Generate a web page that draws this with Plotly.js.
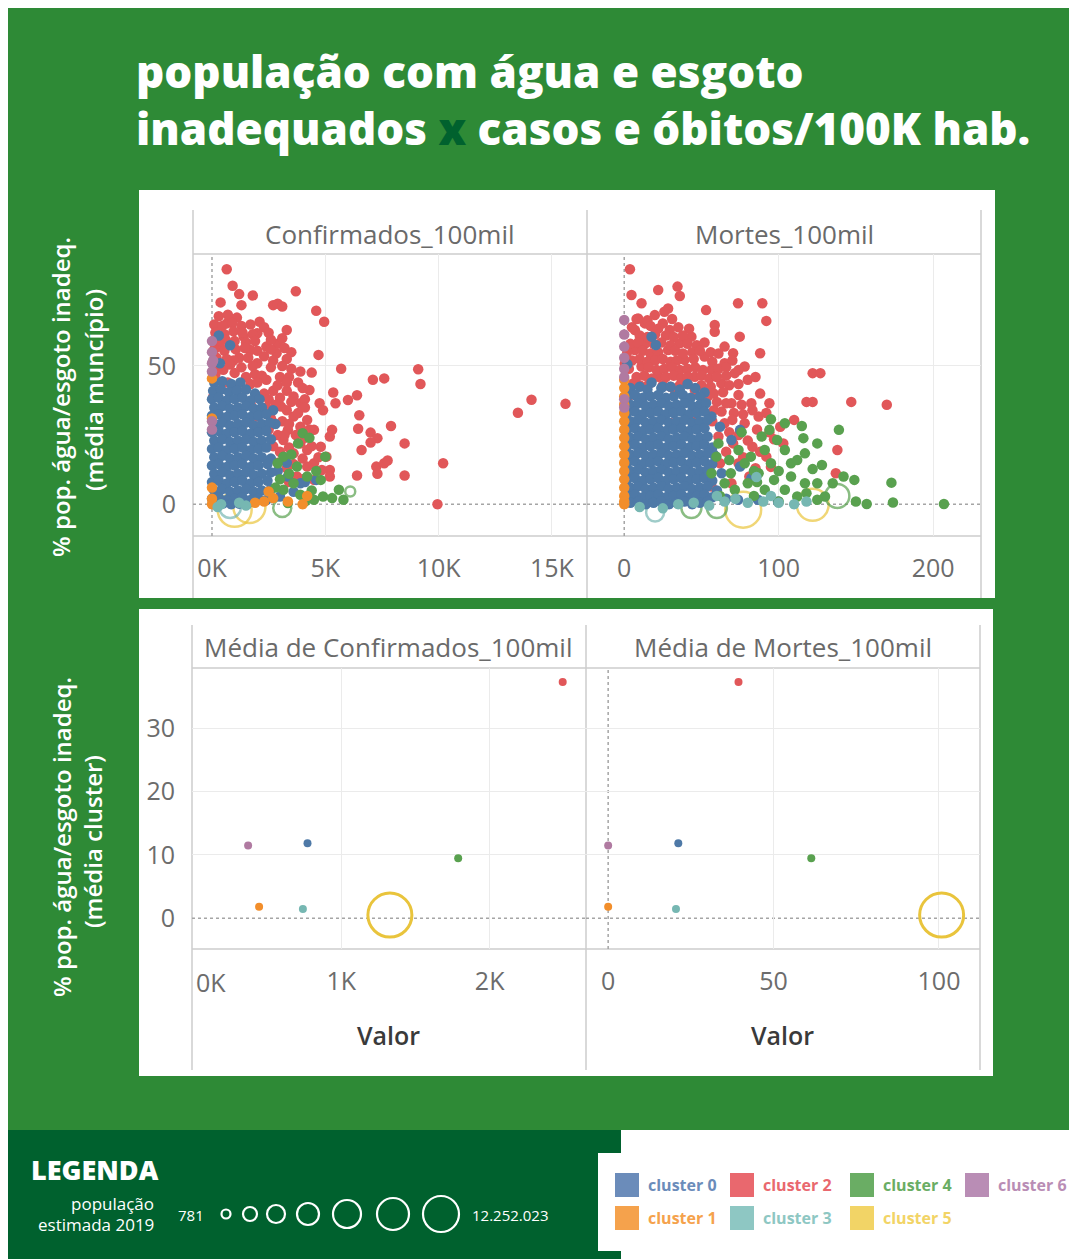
<!DOCTYPE html>
<html><head><meta charset="utf-8">
<script src="https://cdn.plot.ly/plotly-3.0.1.min.js"></script>
<style>html,body{margin:0;padding:0;background:#fff;}#chart{width:1069px;height:1259px;}</style>
</head><body><div id="chart"></div>
<script>
// ---------------- DATA ----------------
const clusterNames = ['cluster 0','cluster 1','cluster 2','cluster 3','cluster 4','cluster 5','cluster 6'];
const clusterColors = ['#4e79a7','#f28e2b','#e15759','#76b7b2','#59a14f','#e9c43c','#b07aa1'];
const legendColors = ['#6b8cba','#f5a24c','#e9686e','#8ec7c3','#6aad64','#f2d466','#b98db5'];

// cluster means (bottom panel): [confirmados/100mil, mortes/100mil, % pop.]
const meanConf = [773, 447, 2492, 742, 1788, 1328, 373];
const meanMort = [21.2, 0, 39.4, 20.5, 61.4, 100.8, 0];
const meanPct  = [11.85, 1.83, 37.3, 1.47, 9.48, 0.5, 11.5];

const confTicks = [0, 5000, 10000, 15000];
const confTickText = ['0K','5K','10K','15K'];
const mortTicks = [0, 100, 200];
const meanConfTicks = [0, 1000, 2000];
const meanConfTickText = ['0K','1K','2K'];
const meanMortTicks = [0, 50, 100];
const pctTicksTop = [0, 50];
const pctTicksBottom = [0, 10, 20, 30];

// municipalities: [confirmados/100mil, % pop.]
const c2_conf = [[650,85],[910,79],[1200,76],[1800,75.5],[1300,72],[380,73],[3700,77],[2700,72],[2900,72.5],[3100,71.5],[4600,70],[4950,66],[3300,63],[2100,66],[3500,55],[4700,54],[2900,58],[5700,49],[4400,47.6],[7100,45],[7600,45.5],[9100,48.8],[9200,43.5],[5350,40.4],[6000,37.7],[6400,39.4],[5450,36.5],[6500,32.2],[6450,27.3],[7000,25.9],[7300,23.9],[7000,22.3],[7900,28.3],[8500,22],[6600,19.6],[7250,13.6],[7600,14.8],[7750,15.8],[7300,11],[6400,10.4],[8500,10.4],[10200,14.8],[9950,0],[13500,33.1],[14100,37.8],[15600,36.3],[5200,24.5],[5300,26.9],[4800,20.8],[5050,17.2],[5200,12.4],[4850,12.4],[4500,14.8],[4500,26.9],[4200,30.5],[3900,36.5],[4300,41.3],[4750,36.5],[4900,34],[3900,48],[3000,46],[3300,41],[3600,39],[2700,41],[2400,45],[2000,51],[1200,53],[1400,60.6],[200,64.2],[650,65.4],[350,57],[940,52],[1700,55.8],[2400,57],[2850,54.6],[500,48.6],[1500,46],[2300,40],[3050,35.3],[3600,31.7],[2750,29.3],[2000,31.7],[3350,26.9],[3900,22],[4200,19.6],[3600,18.4],[3150,23.2],[4200,13.6],[3750,10],[4500,8.8],[5200,10],[2550,34],[2100,26.9],[1700,36.5],[1100,41.3],[60,39],[800,58],[2000,61.8],
 [300,68],[700,68.5],[1100,67.5],[100,65],[450,64.5],[900,65.5],[1300,64.5],[1700,65],[2300,64],[150,62],[550,61.5],[950,62.5],[1350,62],[1800,61.5],[2500,62],[250,59],[600,59.5],[1000,59],[1500,58.5],[1900,59],[2600,59.5],[3100,60],[100,56],[550,55.5],[1050,56],[1450,56.5],[2000,55.5],[2600,56],[3200,56.5],[200,53],[650,52.5],[1600,53],[2300,53.5],[2700,52],[3300,52.5],[300,50],[800,50.5],[1300,49.5],[1800,50],[2600,49.5],[3100,50],[3500,49],[150,47],[1000,47.5],[1900,47],[2200,46.5],[3400,46],[3800,44],[700,44],[1700,43.5],[2000,44],[2900,43],[3300,44],[4000,42],
 [2500,38],[3000,38.5],[3500,37],[4100,38],[2400,35],[2800,36],[3300,34],[3800,33],[4100,35],[2600,31],[3100,30],[3400,29],[3900,28],[4300,27],[2500,27],[2900,25],[3200,25],[3700,25],[4100,24],[2700,21],[3000,19],[3400,20.5],[4000,16.5],[4400,21],[2900,15],[3300,13],[3600,14.5],[4700,17],[4000,9],[3400,8]];

const c0_conf = [[300,61],[800,57.5],[350,51],[2700,34],[2800,29],[3200,17],[3350,10],[3900,7.6],[4100,8],[4600,8.8],[3000,2.8],[3600,4.5],[3300,15],[2900,12],
 [100,44],[450,44.5],[850,43.5],[1250,44],
 [50,41],[400,41.5],[750,40.5],[1100,41],[1500,41.5],[1900,40],
 [0,38],[300,38.5],[650,37.5],[1000,38],[1350,38.5],[1700,37.5],[2100,38],
 [100,35],[450,35.5],[800,34.5],[1150,35],[1500,35.5],[1850,34.5],[2200,35],
 [0,32],[300,32.5],[650,31.5],[1000,32],[1350,32.5],[1700,31.5],[2050,32],[2400,32.5],
 [100,29],[450,29.5],[800,28.5],[1150,29],[1500,29.5],[1850,28.5],[2200,29],[2550,29.5],
 [0,26],[300,26.5],[650,25.5],[1000,26],[1350,26.5],[1700,25.5],[2050,26],[2400,26.5],
 [100,23],[450,23.5],[800,22.5],[1150,23],[1500,23.5],[1850,22.5],[2200,23],[2600,23.5],
 [0,20],[300,20.5],[650,19.5],[1000,20],[1350,20.5],[1700,19.5],[2050,20],[2400,20.5],
 [100,17],[450,17.5],[800,16.5],[1150,17],[1500,17.5],[1850,16.5],[2200,17],[2600,16.5],
 [0,14],[300,14.5],[650,13.5],[1000,14],[1350,14.5],[1700,13.5],[2050,14],[2450,14.5],
 [100,11],[450,11.5],[800,10.5],[1150,11],[1500,11.5],[1850,10.5],[2200,11],[2600,11.5],
 [0,8],[300,8.5],[650,7.5],[1000,8],[1350,8.5],[1700,7.5],[2050,8],[2450,8.5],
 [100,5],[450,5.5],[800,4.5],[1150,5],[1500,5.5],[1850,4.5],[2200,5],[2600,5.5],
 [0,2],[300,2.5],[650,1.5],[1000,2],[1350,2.5],[1700,1.5],[2050,2],[2400,1.5],
 [150,0],[500,0.3],[850,0],[1200,0.2],[1550,0]];

const c4_conf = [[4000,25.7],[3800,22],[4300,24],[3150,17.2],[2900,14.8],[3750,13.6],[4200,10],[4800,8.8],[3600,7.6],[3150,5.2],[3900,3.4],[4500,1.6],[4900,2.8],[5300,2.2],[5600,5.2],[5800,1.6],[5000,17.2],[3350,0.4],[3500,18],[4400,5],[4100,1],[3000,9],[3400,11],[4600,12],[2800,6]];
const c1_conf = [[0,45.5],[0,31],[0,6],[0,2],[0,0],[2700,2.2],[2500,4.6],[3350,1],[4000,0],[1900,0.5],[2300,1],[4200,3]];
const c6_conf = [[0,59],[0,55],[0,51],[0,48],[0,30],[0,27],[50,52]];
const c3_conf = [[400,0],[1200,0.5],[1500,-0.5],[250,-1]];
// large-population municipalities (drawn as rings): [value, % pop., ring size]
const c5_conf_big = [[1000,-2,34],[1650,-1,32]];
const c3_conf_big = [[800,-1,22]];
const c4_conf_big = [[3100,-1.4,18],[6100,4.6,10]];

// municipalities: [mortes/100mil, % pop.]
const c2_mort = [[3.7,85],[4.7,75.7],[11.2,72.7],[22,77.5],[34.5,78.7],[36,75.3],[28.4,70.8],[26,69.6],[19.8,68.4],[9,67.2],[13.4,65.4],[6.9,63],[25,65.4],[29.5,63],[53,70.2],[73.7,72.7],[89.4,72.7],[92,66.3],[58.6,64.8],[58.6,62.4],[74.8,60.6],[65,57],[70.5,54.6],[88,54.6],[43.5,60.6],[36,58.2],[28.4,55.8],[17.7,53.4],[11.2,49.8],[39,52.2],[52,53.4],[65,51],[56.5,48.6],[45.7,46.1],[71.6,47.4],[78,49.8],[80,45],[62.9,43.7],[54,38.9],[69.4,36.5],[82.3,36.5],[94,36.5],[122,47.4],[127,47.4],[118,37],[122,37],[147,37],[170,36],[138,19.6],[137,11.2],[110,30.5],[101,28],[87,31.7],[78,29.3],[65,29.3],[61,24.5],[70.5,22],[83,20.8],[92,17.2],[103,22],[74,14.8],[62,14.8],[56.5,6.4],[69.4,7.6],[43.5,31.7],[30.6,29.3],[22,46.1],[5.8,43.7],[2.6,38.9],[32.7,41.3],[45.7,41.3],[13.4,58],[6.9,55.8],[0.4,50.9],[1.5,41.3],[0.4,36.5],
 [8,67],[15,66.5],[31,67],[5,64],[17,64.5],[22,63.5],[35,64],[42,63.5],[10,61],[15,60.5],[20,61.5],[27,61],[32,60.5],[38,61],[4,58],[9,58.5],[19,58],[24,58.5],[30,57.5],[41,58],[47,57.5],[52,58.5],[2,55],[12,55.5],[17,54.5],[22,55],[33,55.5],[38,54.5],[44,55],[49,55.5],[56,55],[61,54.5],[5,52],[10,52.5],[15,51.5],[20,52],[25,52.5],[30,51.5],[34,52],[45,52.5],[57,51.5],[70,52],[3,49],[16,49.5],[21,48.5],[26,49],[31,49.5],[36,48.5],[41,49],[46,49.5],[51,48.5],[61,49],[66,49.5],[74,48.5],[8,46],[13,46.5],[18,45.5],[27,46],[32,46.5],[37,45.5],[41,46],[50,46.5],[55,45.5],[60,46],[66,46.5],[85,46],[10,43],[16,43.5],[25,43],[30,42.5],[36,43],[41,43.5],[50,43],[56,42.5],[68,43],[74,43.5],
 [58,40],[64,40.5],[74,39.5],[88,40],[60,37],[66,36.5],[76,36],[58,34],[63,33.5],[71,33],[77,32.5],[83,34],[92,33],[57,30],[70,30.5],[86,27],[94,26],[68,26],[74,25],[80,23],[97,23.5],[88,19],[66,19],[77,17],[85,13],[95,13.5],[81,10]];

const c0_mort = [[17.7,60.6],[20.5,57.6],[2,50.6],[17.7,44],[25,42.5],[41,43.5],[52,40.4],[51,34],[56.5,31.7],[75,26.9],[69.4,23.2],[63,11.2],[75,13.6],[82.3,9.4],[73.7,1.6],[86.6,1.6],[99.6,1],[60,5],[66,2],[58,18],[62,28],
 [4,42],[10,42.5],[15,41.5],[24,42],[30,42.5],[36,41.5],[46,42],
 [2,39],[7,39.5],[12,38.5],[17,39],[22,39.5],[27,38.5],[32,39],[38,39.5],[43,38.5],[49,39],
 [4,36],[9,36.5],[14,35.5],[19,36],[24,36.5],[29,35.5],[34,36],[39,36.5],[44,35.5],[49,36],[53,36.5],
 [2,33],[7,33.5],[12,32.5],[17,33],[22,33.5],[27,32.5],[32,33],[37,33.5],[42,32.5],[47,33],[52,33.5],
 [4,30],[9,30.5],[14,29.5],[19,30],[24,30.5],[29,29.5],[34,30],[39,30.5],[44,29.5],[49,30],[54,30.5],
 [2,27],[7,27.5],[12,26.5],[17,27],[22,27.5],[27,26.5],[32,27],[37,27.5],[42,26.5],[47,27],[52,27.5],
 [4,24],[9,24.5],[14,23.5],[19,24],[24,24.5],[29,23.5],[34,24],[39,24.5],[44,23.5],[49,24],[54,24.5],
 [2,21],[7,21.5],[12,20.5],[17,21],[22,21.5],[27,20.5],[32,21],[37,21.5],[42,20.5],[47,21],[52,21.5],[57,20.5],
 [4,18],[9,18.5],[14,17.5],[19,18],[24,18.5],[29,17.5],[34,18],[39,18.5],[44,17.5],[49,18],[54,18.5],
 [2,15],[7,15.5],[12,14.5],[17,15],[22,15.5],[27,14.5],[32,15],[37,15.5],[42,14.5],[47,15],[52,15.5],[57,14.5],
 [4,12],[9,12.5],[14,11.5],[19,12],[24,12.5],[29,11.5],[34,12],[39,12.5],[44,11.5],[49,12],[54,12.5],
 [2,9],[7,9.5],[12,8.5],[17,9],[22,9.5],[27,8.5],[32,9],[37,9.5],[42,8.5],[47,9],[52,9.5],[57,8.5],
 [4,6],[9,6.5],[14,5.5],[19,6],[24,6.5],[29,5.5],[34,6],[39,6.5],[44,5.5],[49,6],[54,6.5],
 [2,3],[7,3.5],[12,2.5],[17,3],[22,3.5],[27,2.5],[32,3],[37,3.5],[42,2.5],[47,3],[52,3.5],[57,2.5],
 [4,0.5],[9,1],[14,0],[19,0.5],[24,1],[29,0],[34,0.5],[39,1],[44,0],[49,0.5],[54,1]];

const c4_mort = [[95,30.7],[94,26.9],[104,29.3],[115,28.3],[116,23.9],[125,22],[139,26.9],[122,12.7],[128,14.2],[142,10],[149,8.8],[173,7.8],[174,0.6],[157,0.1],[150,1],[207,0.1],[130,2.8],[112,2.8],[104,5.2],[97,8.8],[87,11.2],[78,14.8],[74,19.6],[61,22],[59.7,17.2],[56.5,11.2],[65,7.6],[71.6,5.2],[80,7.6],[91,5.2],[95,14.8],[104,19.6],[108,14.8],[99,23.2],[89,24.5],[82,17.2],[69,11.2],[117,7.6],[125,7.6],[108,10],[91,19.6],[117,18.4],[125,1.6],[135,7.6],[62,3],[84,3],[100,1],[118,4],[68,16],[86,8],[112,16],[100,12],[76,26],[84,12]];
const c1_mort = [[0,45],[0,42],[0,39],[0,36],[0,33],[0,30],[0,27],[0,24],[0,21],[0,18],[0,15],[0,12],[0,9],[0,6],[0,3],[0,1],[0,0]];
const c6_mort = [[0,66.6],[0,61.4],[0,57],[0,53],[0,49],[0,46],[0,38],[0,35]];
const c3_mort = [[10,-1],[25,-1.5],[35,0],[45,0.5],[55,-0.5],[65,1],[72,2],[80,0.5],[90,1],[100,0.5],[110,0],[118,1],[85.6,9.8],[95,3],[60,3]];
const c5_mort_big = [[77,-2,36],[122,-0.2,32]];
const c3_mort_big = [[20,-3,18]];
const c4_mort_big = [[43.5,-1.4,20],[60,-1.4,20],[138,3,24]];

// size legend
const popMin = '781', popMax = '12.252.023';

// ---------------- LAYOUT HELPERS ----------------
const W = 1069, H = 1259;
const px = v => v / W;
const py = v => 1 - v / H;
const X = a => a.map(p => p[0]);
const Y = a => a.map(p => p[1]);
const S = a => a.map(p => p[2]);

const traces = [];
function dots(arr, ci, xa, ya, size) {
  traces.push({type:'scatter', mode:'markers', x:X(arr), y:Y(arr), xaxis:xa, yaxis:ya,
    marker:{color:clusterColors[ci], size:size||10.5, line:{width:0}}, hoverinfo:'skip', showlegend:false});
}
function rings(arr, ci, xa, ya) {
  traces.push({type:'scatter', mode:'markers', x:X(arr), y:Y(arr), xaxis:xa, yaxis:ya,
    marker:{color:clusterColors[ci], size:S(arr), symbol:'circle-open', line:{width:2.5, color:clusterColors[ci]}}, hoverinfo:'skip', showlegend:false});
}
// top-left (Confirmados): big rings lie beneath the dots
rings(c5_conf_big,5,'x','y'); rings(c3_conf_big,3,'x','y'); rings(c4_conf_big,4,'x','y');
dots(c2_conf,2,'x','y'); dots(c0_conf,0,'x','y'); dots(c4_conf,4,'x','y');
dots(c1_conf,1,'x','y'); dots(c6_conf,6,'x','y'); dots(c3_conf,3,'x','y');
// top-right (Mortes)
rings(c5_mort_big,5,'x2','y2'); rings(c3_mort_big,3,'x2','y2'); rings(c4_mort_big,4,'x2','y2');
dots(c2_mort,2,'x2','y2'); dots(c0_mort,0,'x2','y2'); dots(c4_mort,4,'x2','y2');
dots(c1_mort,1,'x2','y2'); dots(c6_mort,6,'x2','y2'); dots(c3_mort,3,'x2','y2');
// bottom (cluster means)
for (let i = 0; i < 7; i++) {
  const big = i === 5;
  const m = {color:clusterColors[i], size: big ? 44 : 8, symbol: big ? 'circle-open' : 'circle', line:{width: big ? 3 : 0, color:clusterColors[i]}};
  traces.push({type:'scatter', mode:'markers', x:[meanConf[i]], y:[meanPct[i]], xaxis:'x3', yaxis:'y3', marker:m, hoverinfo:'skip', showlegend:false});
  traces.push({type:'scatter', mode:'markers', x:[meanMort[i]], y:[meanPct[i]], xaxis:'x4', yaxis:'y4', marker:m, hoverinfo:'skip', showlegend:false});
}

const tickFont = {family:'Open Sans', size:25, color:'#6c6c6c'};
const grid = '#ebebeb';
function xax(domain, range, tv, tt, anchor) {
  return {domain:domain, range:range, tickvals:tv, ticktext:tt, anchor:anchor, showgrid:true, gridcolor:grid, gridwidth:1,
    zeroline:true, zerolinecolor:'rgba(0,0,0,0)', showline:false, ticks:'', tickfont:tickFont, ticklabelstandoff:15, fixedrange:true};
}
function yax(domain, range, tv, anchor, show) {
  return {domain:domain, range:range, tickvals:tv, anchor:anchor, showgrid:true, gridcolor:grid, gridwidth:1,
    zeroline:true, zerolinecolor:'rgba(0,0,0,0)', showline:false, ticks:'', tickfont:tickFont, showticklabels:show, ticklabelstandoff:16, fixedrange:true};
}
const topDom = [py(536), py(254)];
const botDom = [py(949), py(668)];

const shapes = [];
function rect(x0,y0,x1,y1,color){ shapes.push({type:'rect', xref:'paper', yref:'paper', x0:px(x0), x1:px(x1), y0:py(y1), y1:py(y0), fillcolor:color, line:{width:0}, layer:'below'}); }
function pline(x0,y0,x1,y1,color,w){ shapes.push({type:'line', xref:'paper', yref:'paper', x0:px(x0), x1:px(x1), y0:py(y0), y1:py(y1), line:{color:color, width:w}, layer:'below'}); }
rect(8,8,1069,1130,'#2e8a36');
rect(8,1130,621,1259,'#00612e');
rect(598,1153,1069,1251,'#ffffff');
rect(139,190,995,598,'#ffffff');
rect(139,609,993,1076,'#ffffff');
const frame = '#cdcdcd';
[193,587,981].forEach(x => pline(x,210,x,598,frame,1.5));
pline(193,254,981,254,frame,1.5); pline(193,536,981,536,frame,1.5);
[192,586,980].forEach(x => pline(x,625,x,1070,frame,1.5));
pline(192,668,980,668,frame,1.5); pline(192,949,980,949,frame,1.5);
// dotted zero lines (data coords)
const dot = {color:'#a5a5a5', width:1.5, dash:'dot'};
[['x','y'],['x2','y2'],['x4','y4']].forEach(([xa,ya]) => shapes.push({type:'line', xref:xa, yref:ya+' domain', x0:0, x1:0, y0:0, y1:1, line:dot, layer:'below'}));
[['x','y'],['x2','y2'],['x3','y3'],['x4','y4']].forEach(([xa,ya]) => shapes.push({type:'line', xref:xa+' domain', yref:ya, x0:0, x1:1, y0:0, y1:0, line:dot, layer:'below'}));
// size legend circles
const sizeLegend = [[226,9],[250,14],[276,18],[308,22],[347,28],[393,32],[441,36]];
sizeLegend.forEach(([cx,d]) => shapes.push({type:'circle', xref:'paper', yref:'paper', x0:px(cx-d/2), x1:px(cx+d/2), y0:py(1214+d/2), y1:py(1214-d/2), line:{color:'#ffffff', width:2.2}, fillcolor:'rgba(0,0,0,0)', layer:'above'}));
// cluster colour squares
const legPos = [[615,1185],[615,1218],[730,1185],[730,1218],[850,1185],[850,1218],[965,1185]];
legPos.forEach(([x,y],i) => shapes.push({type:'rect', xref:'paper', yref:'paper', x0:px(x), x1:px(x+24), y0:py(y+12), y1:py(y-12), fillcolor:legendColors[i], line:{width:0}, layer:'above'}));

const ann = [];
function txt(text,x,y,opt){ ann.push(Object.assign({text:text, x:px(x), y:py(y), xref:'paper', yref:'paper', showarrow:false, xanchor:'center', yanchor:'middle'}, opt)); }
const titleFont = {family:'Open Sans', size:44, color:'#ffffff', weight:800};
txt('população com água e esgoto<br>inadequados <span style="color:#00612e">x</span> casos e óbitos/100K hab.',134,99,{xanchor:'left', align:'left', font:titleFont});
const hdrFont = {family:'Open Sans', size:26, color:'#6a6a6a'};
txt('Confirmados_100mil',390,234,{font:hdrFont});
txt('Mortes_100mil',784,234,{font:hdrFont});
txt('Média de Confirmados_100mil',388,647,{font:hdrFont});
txt('Média de Mortes_100mil',783,647,{font:hdrFont});
const valFont = {family:'Open Sans', size:25, color:'#3a3a3a', weight:600};
txt('Valor',388,1035,{font:valFont});
txt('Valor',782,1035,{font:valFont});
const yTitleFont = {family:'Open Sans', size:24, color:'#ffffff', weight:600};
txt('% pop. água/esgoto inadeq.',61,397,{textangle:-90, font:yTitleFont});
txt('(média muncípio)',93,390,{textangle:-90, font:yTitleFont});
txt('% pop. água/esgoto inadeq.',61,837,{textangle:-90, font:yTitleFont});
txt('(média cluster)',93,842,{textangle:-90, font:yTitleFont});
// first tick label of the bottom-left axis is kept inside its pane, as in the reference
ann.push({text:meanConfTickText[0], x:meanConfTicks[0], xref:'x3', y:py(982), yref:'paper', xanchor:'left', yanchor:'middle', xshift:1, showarrow:false, font:tickFont});
// legend texts
txt('LEGENDA',29,1169,{xanchor:'left', font:{family:'Open Sans', size:27, color:'#ffffff', weight:800}});
txt('população',156,1203,{xanchor:'right', font:{family:'Open Sans', size:17, color:'#ffffff'}});
txt('estimada 2019',156,1224,{xanchor:'right', font:{family:'Open Sans', size:17, color:'#ffffff'}});
txt(popMin,206,1215,{xanchor:'right', font:{family:'Open Sans', size:15, color:'#ffffff'}});
txt(popMax,470,1215,{xanchor:'left', font:{family:'Open Sans', size:15, color:'#ffffff'}});
legPos.forEach(([x,y],i) => txt(clusterNames[i], x+31, y, {xanchor:'left', font:{family:'Open Sans', size:16, color:legendColors[i], weight:700}}));

const layout = {
  width:W, height:H, margin:{l:0,r:0,t:0,b:0}, paper_bgcolor:'#ffffff', plot_bgcolor:'rgba(0,0,0,0)',
  showlegend:false, hovermode:false,
  xaxis: xax([px(193),px(587)], [-838,16549], confTicks, confTickText, 'y'),
  yaxis: yax(topDom, [-11.5,90.5], pctTicksTop, 'x', true),
  xaxis2: xax([px(587),px(981)], [-24.1,231], mortTicks, mortTicks.map(String), 'y2'),
  yaxis2: yax(topDom, [-11.5,90.5], pctTicksTop, 'x2', false),
  xaxis3: xax([px(192),px(586)], [-5,2649], meanConfTicks, ['', meanConfTickText[1], meanConfTickText[2]], 'y3'),
  yaxis3: yax(botDom, [-4.85,39.5], pctTicksBottom, 'x3', true),
  xaxis4: xax([px(586),px(980)], [-6.7,112.4], meanMortTicks, meanMortTicks.map(String), 'y4'),
  yaxis4: yax(botDom, [-4.85,39.5], pctTicksBottom, 'x4', false),
  shapes: shapes, annotations: ann
};
Plotly.newPlot('chart', traces, layout, {staticPlot:true, displayModeBar:false});
</script></body></html>
